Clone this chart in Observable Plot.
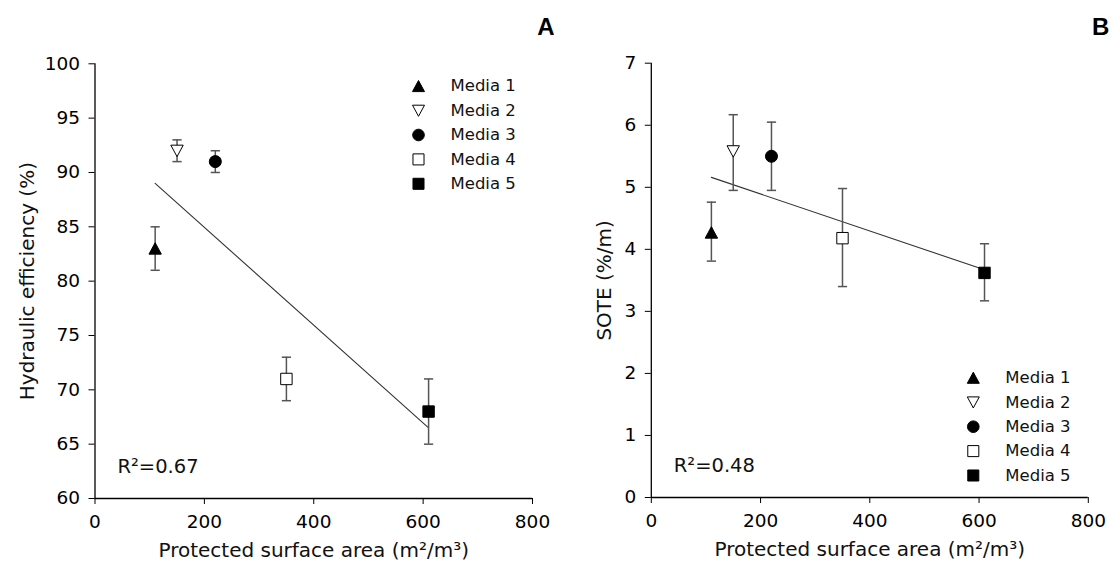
<!DOCTYPE html>
<html>
<head>
<meta charset="utf-8">
<script src="https://cdn.jsdelivr.net/npm/d3@7"></script>
<script src="https://cdn.jsdelivr.net/npm/@observablehq/plot@0.6"></script>
<style>
  html, body { margin: 0; padding: 0; background: #fff; }
  #wrap { position: relative; width: 1109px; height: 565px; overflow: hidden; }
  #wrap svg { position: absolute; top: 0; }
</style>
</head>
<body>
<div id="wrap"></div>
<script>
// ---- data ----
const mediaNames = ["Media 1", "Media 2", "Media 3", "Media 4", "Media 5"];
const area = [110, 150, 220, 350, 610];
const hydEff = [83, 92, 91, 71, 68];
const hydLow = [81, 91, 90, 69, 65];
const hydHigh = [85, 93, 92, 73, 71];
const sote = [4.27, 5.58, 5.5, 4.18, 3.62];
const soteLow = [3.81, 4.95, 4.95, 3.4, 3.17];
const soteHigh = [4.76, 6.17, 6.05, 4.98, 4.09];
const fitAX = [110, 610];
const fitAY = [89.0, 66.5];
const fitBX = [110, 610];
const fitBY = [5.16, 3.67];
const xTicks = [0, 200, 400, 600, 800];
const yTicksA = [60, 65, 70, 75, 80, 85, 90, 95, 100];
const yTicksB = [0, 1, 2, 3, 4, 5, 6, 7];
const markerKind = ["triUp", "triDown", "circle", "square", "square"];
const markerFill = ["black", "white", "black", "white", "black"];
const r2A = "R²=0.67";
const r2B = "R²=0.48";
const xLabel = "Protected surface area (m²/m³)";
const yLabelA = "Hydraulic efficiency (%)";
const yLabelB = "SOTE (%/m)";

// ---- symbols ----
const half = size => Math.sqrt(size / Math.PI);
const symbols = {
  triUp: { draw(c, size) { const s = half(size); c.moveTo(0, -s * 0.95); c.lineTo(s, s * 0.9); c.lineTo(-s, s * 0.9); c.closePath(); } },
  triDown: { draw(c, size) { const s = half(size); c.moveTo(0, s * 0.95); c.lineTo(s, -s * 0.9); c.lineTo(-s, -s * 0.9); c.closePath(); } },
  circle: { draw(c, size) { const s = half(size) * 0.97; c.moveTo(s, 0); c.arc(0, 0, s, 0, 2 * Math.PI); } },
  square: { draw(c, size) { const s = half(size) * 0.92; c.rect(-s, -s, 2 * s, 2 * s); } }
};
const capSymbol = { draw(c, size) { const s = half(size); c.moveTo(-s, 0); c.lineTo(s, 0); } };

function panel(cfg) {
  const rows = mediaNames.map((name, i) => ({
    name, x: area[i], y: cfg.y[i], lo: cfg.lo[i], hi: cfg.hi[i],
    kind: markerKind[i], fill: markerFill[i], i
  }));
  const fit = cfg.fitX.map((x, i) => ({ x, y: cfg.fitY[i] }));
  const legAnchor = cfg.legendTop ? "top-right" : "bottom-right";
  const legDy = i => cfg.legendTop ? cfg.legendStart + i * 24.4 : cfg.legendStart + (i - 4) * 24.4;
  return Plot.plot({
    width: 555,
    height: 565,
    marginLeft: cfg.ml,
    marginRight: cfg.mr,
    marginTop: cfg.mt,
    marginBottom: cfg.mb,
    style: { fontFamily: "DejaVu Sans", fontSize: "18px", color: "black", background: "white", overflow: "visible" },
    x: { domain: [0, 800] },
    y: { domain: cfg.domain },
    marks: [
      Plot.axisX({ ticks: xTicks, tickSize: 6, tickPadding: 10, fontSize: 18.5, label: null, stroke: "black", tickFormat: d3.format("d") }),
      Plot.axisY({ ticks: cfg.ticks, tickSize: 6, tickPadding: 9, fontSize: 18.5, label: null, stroke: "black", tickFormat: d3.format("d") }),
      Plot.text([xLabel], { frameAnchor: "bottom", dy: 52, text: d => d, lineAnchor: "middle", fontSize: 20, fill: "#111" }),
      Plot.text([cfg.ylabel], { frameAnchor: "left", dx: cfg.ylabelDx, text: d => d, rotate: -90, lineAnchor: "middle", textAnchor: "middle", fontSize: 20, fill: "#111" }),
      Plot.ruleX([0], { stroke: "black", strokeWidth: 1.3 }),
      Plot.ruleY([cfg.domain[0]], { stroke: "black", strokeWidth: 1.3 }),
      Plot.line(fit, { x: "x", y: "y", stroke: "#333", strokeWidth: 1.1 }),
      Plot.ruleX(rows, { x: "x", y1: "lo", y2: "hi", stroke: "#555", strokeWidth: 1.5 }),
      Plot.dot(rows, { x: "x", y: "lo", symbol: capSymbol, r: 4.6, stroke: "#555", strokeWidth: 1.5 }),
      Plot.dot(rows, { x: "x", y: "hi", symbol: capSymbol, r: 4.6, stroke: "#555", strokeWidth: 1.5 }),
      ...rows.map(d => Plot.dot([d], { x: "x", y: "y", symbol: symbols[d.kind], r: 6.2, fill: d.fill, stroke: "black", strokeWidth: 1 })),
      ...rows.map(d => Plot.dot([d], { frameAnchor: legAnchor, dx: cfg.legMarkDx, dy: legDy(d.i), symbol: symbols[d.kind], r: 6, fill: d.fill, stroke: "black", strokeWidth: 1 })),
      ...rows.map(d => Plot.text([d], { frameAnchor: legAnchor, dx: cfg.legTextDx, dy: legDy(d.i), text: "name", textAnchor: "start", lineAnchor: "middle", fontSize: 16.5, fill: "#111" })),
      Plot.text([cfg.r2], { frameAnchor: "bottom-left", dx: cfg.r2dx, dy: -32, text: d => d, textAnchor: "start", lineAnchor: "middle", fontSize: 19.5, fill: "#111" }),
      Plot.text([cfg.letter], { frameAnchor: "top-right", dx: cfg.letterDx, dy: -36, text: d => d, textAnchor: "end", lineAnchor: "middle", fontSize: 24, fontWeight: "bold", fontFamily: "Liberation Sans", fill: "black" })
    ]
  });
}

const wrap = document.getElementById("wrap");
const a = panel({
  y: hydEff, lo: hydLow, hi: hydHigh, fitX: fitAX, fitY: fitAY,
  domain: [60, 100], ticks: yTicksA, ylabel: yLabelA, ylabelDx: -67.5,
  ml: 94.5, mr: 23, mt: 63.3, mb: 67,
  legendTop: true, legendStart: 22.4, legMarkDx: -114, legTextDx: -82,
  r2: r2A, r2dx: 22.5, letter: "A", letterDx: 22
});
a.style.left = "0px";
wrap.appendChild(a);
const b = panel({
  y: sote, lo: soteLow, hi: soteHigh, fitX: fitBX, fitY: fitBY,
  domain: [0, 7], ticks: yTicksB, ylabel: yLabelB, ylabelDx: -47,
  ml: 96.8, mr: 21.2, mt: 62.7, mb: 68,
  legendTop: false, legendStart: -22, legMarkDx: -115, legTextDx: -83,
  r2: r2B, r2dx: 22.5, letter: "B", letterDx: 21
});
b.style.left = "554px";
wrap.appendChild(b);
</script>
</body>
</html>
